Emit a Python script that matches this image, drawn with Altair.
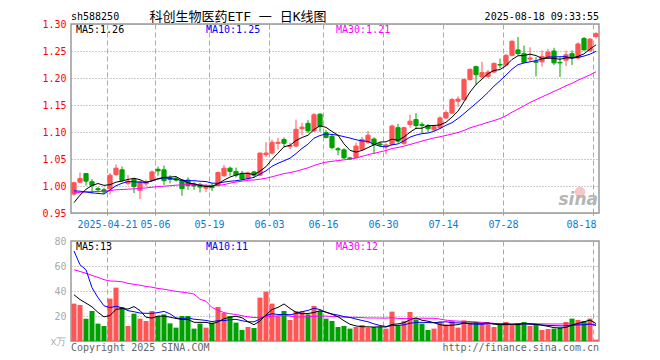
import altair as alt
import pandas as pd

RED = "#ff5555"
GREEN = "#00a000"
MONO = "DejaVu Sans Mono"
TITLE_FONT = "DejaVu Sans Mono, Noto Sans CJK SC"

# ---- data -----------------------------------------------------------------
# 29 sessions before the first drawn candle (only feed the moving averages)
prior_close = [0.975, 0.980, 0.990, 0.985, 0.978, 0.982, 0.990, 0.995, 0.988, 0.984,
               0.979, 0.983, 0.987, 0.992, 0.990, 0.985, 0.980, 0.978, 0.985, 0.994,
               1.020, 1.025, 1.015, 1.005, 0.999, 0.945, 0.955, 0.965, 0.975]
prior_volume = [70, 62, 75, 60, 68, 65, 48, 40, 52, 44,
                38, 47, 42, 50, 39, 42, 35, 38, 40, 35,
                139, 58, 167, 94, 77, 48, 32, 39, 36]

open_ = [0.985, 1.007, 1.023, 1.008, 0.995, 0.993, 0.995, 1.021, 1.030, 1.005,
         1.012, 0.992, 1.004, 1.011, 1.031, 1.030, 1.015, 1.014, 1.011, 1.011,
         1.004, 1.003, 0.996, 1.001, 1.001, 1.019, 1.033, 1.027, 1.022, 1.014,
         1.026, 1.020, 1.058, 1.061, 1.079, 1.086, 1.073, 1.074, 1.106, 1.116,
         1.102, 1.133, 1.099, 1.092, 1.069, 1.067, 1.052, 1.053, 1.068, 1.081,
         1.087, 1.078, 1.073, 1.077, 1.108, 1.079, 1.114, 1.123, 1.114, 1.112,
         1.104, 1.108, 1.126, 1.135, 1.157, 1.160, 1.197, 1.221, 1.202, 1.203,
         1.211, 1.225, 1.224, 1.242, 1.252, 1.245, 1.235, 1.231, 1.230, 1.238,
         1.250, 1.229, 1.233, 1.245, 1.237, 1.273, 1.251, 1.277]
high = [1.008, 1.025, 1.023, 1.013, 0.998, 0.997, 1.024, 1.040, 1.036, 1.020,
        1.015, 1.010, 1.012, 1.029, 1.036, 1.038, 1.020, 1.018, 1.013, 1.016,
        1.007, 1.006, 1.004, 1.005, 1.027, 1.039, 1.036, 1.034, 1.028, 1.027,
        1.028, 1.062, 1.081, 1.086, 1.089, 1.090, 1.080, 1.123, 1.117, 1.122,
        1.135, 1.135, 1.104, 1.096, 1.072, 1.070, 1.054, 1.080, 1.091, 1.102,
        1.090, 1.081, 1.079, 1.114, 1.115, 1.110, 1.132, 1.135, 1.118, 1.115,
        1.113, 1.129, 1.140, 1.163, 1.166, 1.199, 1.218, 1.223, 1.230, 1.215,
        1.229, 1.236, 1.244, 1.270, 1.276, 1.260, 1.257, 1.239, 1.251, 1.254,
        1.256, 1.239, 1.251, 1.251, 1.266, 1.276, 1.274, 1.285]
low = [0.982, 1.005, 1.001, 0.986, 0.988, 0.985, 0.984, 1.019, 1.008, 1.001,
       0.987, 0.976, 1.000, 1.008, 1.019, 1.002, 1.005, 1.008, 0.982, 0.993,
       0.993, 0.988, 0.989, 0.991, 0.999, 1.017, 1.019, 1.016, 1.010, 1.011,
       1.015, 1.018, 1.054, 1.058, 1.068, 1.072, 1.068, 1.072, 1.094, 1.098,
       1.100, 1.100, 1.088, 1.068, 1.057, 1.050, 1.048, 1.051, 1.065, 1.078,
       1.059, 1.072, 1.059, 1.075, 1.080, 1.076, 1.108, 1.105, 1.098, 1.100,
       1.101, 1.106, 1.124, 1.133, 1.147, 1.158, 1.195, 1.187, 1.199, 1.200,
       1.209, 1.218, 1.222, 1.240, 1.242, 1.228, 1.230, 1.203, 1.221, 1.236,
       1.224, 1.202, 1.222, 1.224, 1.235, 1.251, 1.248, 1.273]
close = [1.006, 1.014, 1.009, 1.001, 0.993, 0.989, 1.020, 1.033, 1.010, 1.009,
         0.999, 1.008, 1.007, 1.026, 1.028, 1.010, 1.012, 1.011, 0.995, 1.001,
         1.000, 0.998, 1.001, 0.997, 1.025, 1.033, 1.027, 1.020, 1.013, 1.024,
         1.020, 1.061, 1.061, 1.081, 1.081, 1.079, 1.075, 1.105, 1.109, 1.102,
         1.132, 1.110, 1.090, 1.071, 1.067, 1.052, 1.050, 1.074, 1.086, 1.094,
         1.077, 1.076, 1.076, 1.111, 1.083, 1.108, 1.120, 1.112, 1.112, 1.106,
         1.110, 1.126, 1.136, 1.160, 1.161, 1.197, 1.216, 1.206, 1.210, 1.211,
         1.227, 1.224, 1.242, 1.268, 1.245, 1.229, 1.237, 1.229, 1.240, 1.248,
         1.228, 1.228, 1.243, 1.238, 1.263, 1.252, 1.272, 1.282]
volume = [29.9, 28.8, 17.9, 24.0, 13.9, 12.0, 33.9, 42.7, 27.2, 12.0,
          21.9, 17.9, 16.0, 24.0, 20.0, 21.3, 14.1, 10.7, 20.0, 20.0,
          9.9, 13.9, 10.7, 14.7, 27.2, 22.4, 20.0, 14.7, 8.8, 11.2,
          10.4, 34.7, 39.5, 29.9, 20.0, 24.0, 16.8, 24.0, 24.0, 21.3,
          28.0, 24.0, 17.9, 16.0, 11.2, 12.0, 9.9, 11.2, 12.8, 10.7,
          11.2, 11.2, 9.9, 23.5, 12.5, 16.0, 23.2, 17.3, 13.9, 8.8,
          9.9, 15.5, 13.3, 16.0, 10.7, 16.5, 14.7, 14.7, 13.3, 13.3,
          11.2, 12.8, 15.2, 12.5, 13.9, 15.2, 12.0, 13.1, 8.8, 9.6,
          9.9, 10.7, 15.2, 17.9, 16.8, 16.0, 17.9, 1.1]

tick_idx = [6, 14, 23, 33, 42, 52, 62, 72, 87]
tick_labels = ["2025-04-21", "05-06", "05-19", "06-03", "06-16",
               "06-30", "07-14", "07-28", "08-18"]
price_ticks = [0.95, 1.00, 1.05, 1.10, 1.15, 1.20, 1.25, 1.30]
volume_ticks = [0, 20, 40, 60, 80]
price_ma_labels = ["MA5:1.26", "MA10:1.25", "MA30:1.21"]
volume_ma_labels = ["MA5:13", "MA10:11", "MA30:12"]
ma_colors = ["#000000", "#0000ff", "#ff00ff"]

code_text = "sh588250"
title_text = "科创生物医药ETF 一 日K线图"
time_text = "2025-08-18 09:33:55"
copyright_text = "Copyright 2025 SINA.COM"
url_text = "http://finance.sina.com.cn"
logo_text = "sina"

# ---- table ---------------------------------------------------------------
n_prior = len(prior_close)
n = len(close)
df = pd.DataFrame({
    "i": list(range(-n_prior, n)),
    "open": [None] * n_prior + open_,
    "high": [None] * n_prior + high,
    "low": [None] * n_prior + low,
    "close": prior_close + close,
    "vol": prior_volume + volume,
})

W, H_MAIN, H_VOL = 528, 189, 100
sort_i = [alt.SortField("i")]

base = (
    alt.Chart(df)
    .transform_window(ma5="mean(close)", frame=[-4, 0], sort=sort_i)
    .transform_window(ma10="mean(close)", frame=[-9, 0], sort=sort_i)
    .transform_window(ma30="mean(close)", frame=[-29, 0], sort=sort_i)
    .transform_window(vma5="mean(vol)", frame=[-4, 0], sort=sort_i)
    .transform_window(vma10="mean(vol)", frame=[-9, 0], sort=sort_i)
    .transform_window(vma30="mean(vol)", frame=[-29, 0], sort=sort_i)
    .transform_filter("datum.i >= 0")
    .transform_calculate(
        mid="datum.i + 0.5",
        xl="datum.i + 0.15",
        xr="datum.i + 0.85",
        vl="datum.i + 0.08",
        vr="datum.i + 0.92",
    )
)

label_expr = "{}[indexof({}, datum.value)]".format(
    "[" + ",".join("'" + t + "'" for t in tick_labels) + "]",
    "[" + ",".join(str(v) for v in tick_idx) + "]",
)
last_tick = tick_idx[-1]

xs = alt.Scale(domain=[0, n], nice=False, zero=False)
x_axis_main = alt.Axis(
    values=tick_idx, labelExpr=label_expr, grid=True, gridDash=[5, 3],
    gridColor="#aaaaaa", gridWidth=1, tickSize=2, tickColor="#999999",
    domain=False, labelColor="#0a7ad6", labelPadding=4, labelFontSize=10,
    labelFlush=False, labelOverlap=False, title=None,
    labelAlign={"condition": {"test": f"datum.value == {last_tick}", "value": "right"},
                "value": "center"},
    labelOffset={"condition": {"test": f"datum.value == {last_tick}", "value": 3},
                 "value": 0},
)
x_axis_vol = alt.Axis(
    values=tick_idx, labels=False, ticks=False, domain=False, grid=True,
    gridDash=[5, 3], gridColor="#aaaaaa", gridWidth=1, title=None,
)

ys_main = alt.Scale(domain=[0.95, 1.30], nice=False, zero=False)
y_axis_main = alt.Axis(
    values=price_ticks, format=".2f", labelColor="#ff0000", grid=True,
    gridDash=[1, 2], gridColor="#999999", ticks=False, domain=False,
    labelPadding=5, labelFontSize=10, title=None,
)
ys_vol = alt.Scale(domain=[0, 80], nice=False, zero=True)
y_axis_vol = alt.Axis(
    values=volume_ticks, labelExpr="datum.value == 0 ? 'x万' : datum.label",
    labelColor="#aaaaaa", grid=True, gridDash=[1, 2], gridColor="#999999",
    ticks=False, domain=False, labelPadding=5, labelFontSize=10, title=None,
)

updown = alt.when(alt.datum.close >= alt.datum.open).then(alt.value(RED)).otherwise(alt.value(GREEN))


def note(txt, x, y, color="#000000", align="left", size=10, font=MONO, **kw):
    return alt.Chart(pd.DataFrame({"t": [txt]})).mark_text(
        align=align, baseline="alphabetic", fontSize=size, font=font, color=color, **kw
    ).encode(text="t:N", x=alt.value(x), y=alt.value(y))


wick = base.mark_rule(strokeWidth=1).encode(
    x=alt.X("mid:Q", scale=xs, axis=x_axis_main),
    y=alt.Y("low:Q", scale=ys_main, axis=y_axis_main),
    y2="high:Q",
    color=updown,
)
body = base.mark_rect(strokeWidth=1).encode(
    x=alt.X("xl:Q", scale=xs, axis=x_axis_main),
    x2="xr:Q",
    y=alt.Y("open:Q", scale=ys_main, axis=y_axis_main),
    y2="close:Q",
    color=updown,
    stroke=updown,
)
price_lines = [
    base.mark_line(color=c, strokeWidth=1).encode(
        x=alt.X("mid:Q", scale=xs, axis=x_axis_main),
        y=alt.Y(f"{f}:Q", scale=ys_main, axis=y_axis_main),
    )
    for f, c in zip(["ma30", "ma10", "ma5"], ma_colors[::-1])
]

ma_x = [5, 135, 265]
main_texts = [note(t, x, 9, c) for t, x, c in zip(price_ma_labels, ma_x, ma_colors)]
main_texts += [
    note(code_text, 0, -4),
    note(title_text, 167, -3, align="center", size=13, font=TITLE_FONT),
    note(time_text, W, -4, align="right"),
    alt.Chart(pd.DataFrame({"t": [logo_text]})).mark_circle(
        color="#f08080", opacity=0.45, size=110
    ).encode(x=alt.value(509), y=alt.value(168)),
    note(logo_text, W - 1, 181, color="#b5b5b5", align="right", size=17,
         font="DejaVu Sans", fontStyle="italic", fontWeight="bold"),
]

main = alt.layer(wick, body, *price_lines, *main_texts).properties(width=W, height=H_MAIN)

vol_bars = base.mark_rect().encode(
    x=alt.X("vl:Q", scale=xs, axis=x_axis_vol),
    x2="vr:Q",
    y=alt.Y("vol:Q", scale=ys_vol, axis=y_axis_vol),
    y2=alt.datum(0),
    color=updown,
)
vol_lines = [
    base.mark_line(color=c, strokeWidth=1).encode(
        x=alt.X("mid:Q", scale=xs, axis=x_axis_vol),
        y=alt.Y(f"{f}:Q", scale=ys_vol, axis=y_axis_vol),
    )
    for f, c in zip(["vma30", "vma10", "vma5"], ma_colors[::-1])
]
vol_texts = [note(t, x, 9, c) for t, x, c in zip(volume_ma_labels, ma_x, ma_colors)]
vol_texts += [
    note(copyright_text, 0, H_VOL + 10, color="#666666"),
    note(url_text, W, H_VOL + 10, color="#666666", align="right"),
]
vol = alt.layer(vol_bars, *vol_lines, *vol_texts).properties(width=W, height=H_VOL)

chart = (
    alt.vconcat(main, vol, spacing=5)
    .properties(padding={"left": 33, "top": 2, "right": 4, "bottom": 0})
    .configure(font=MONO)
    .configure_view(stroke="#999999", strokeWidth=1.5)
)

chart.save("out.html", embed_options={"renderer": "svg", "actions": False})
